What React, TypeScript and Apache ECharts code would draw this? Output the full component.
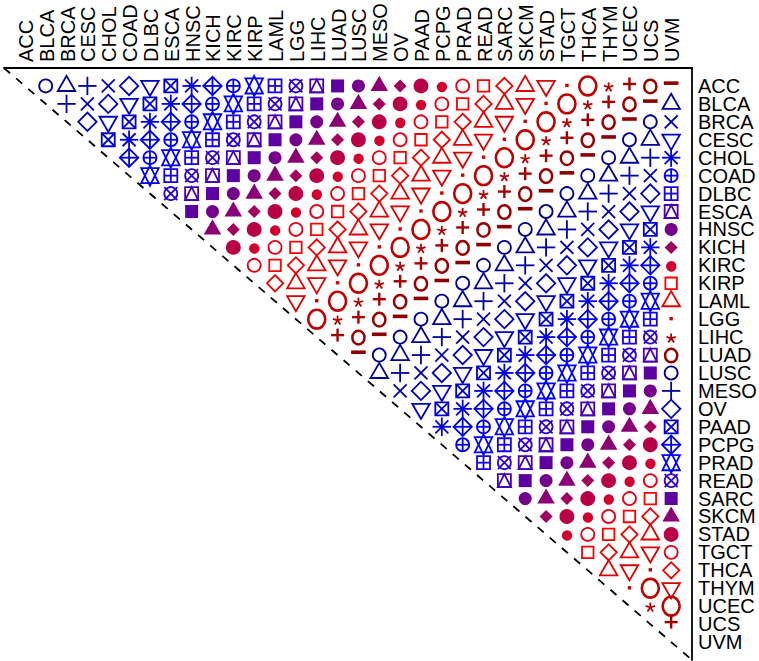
import React, { useEffect, useRef } from "react";
import * as echarts from "echarts";

// Cancer types (columns on top, rows on the right)
const cancerTypes = ["ACC","BLCA","BRCA","CESC","CHOL","COAD","DLBC","ESCA","HNSC","KICH","KIRC","KIRP","LAML","LGG","LIHC","LUAD","LUSC","MESO","OV","PAAD","PCPG","PRAD","READ","SARC","SKCM","STAD","TGCT","THCA","THYM","UCEC","UCS","UVM"];

// Symbol code (1..31) of each cell right of the diagonal, row by row
const rowACC = [1,2,3,4,5,6,7,8,9,10,11,12,13,14,15,16,17,18,19,20,21,22,23,24,25,26,27,28,29,30,31];
const rowBLCA = [3,4,5,6,7,8,9,10,11,12,13,14,15,16,17,18,19,20,21,22,23,24,25,26,27,28,29,30,31,2];
const rowBRCA = [5,6,7,8,9,10,11,12,13,14,15,16,17,18,19,20,21,22,23,24,25,26,27,28,29,30,31,1,4];
const rowCESC = [7,8,9,10,11,12,13,14,15,16,17,18,19,20,21,22,23,24,25,26,27,28,29,30,31,1,2,6];
const rowCHOL = [9,10,11,12,13,14,15,16,17,18,19,20,21,22,23,24,25,26,27,28,29,30,31,1,2,3,8];
const rowCOAD = [11,12,13,14,15,16,17,18,19,20,21,22,23,24,25,26,27,28,29,30,31,1,2,3,4,10];
const rowDLBC = [13,14,15,16,17,18,19,20,21,22,23,24,25,26,27,28,29,30,31,1,2,3,4,5,12];
const rowESCA = [15,16,17,18,19,20,21,22,23,24,25,26,27,28,29,30,31,1,2,3,4,5,6,14];
const rowHNSC = [17,18,19,20,21,22,23,24,25,26,27,28,29,30,31,1,2,3,4,5,6,7,16];
const rowKICH = [19,20,21,22,23,24,25,26,27,28,29,30,31,1,2,3,4,5,6,7,8,18];
const rowKIRC = [21,22,23,24,25,26,27,28,29,30,31,1,2,3,4,5,6,7,8,9,20];
const rowKIRP = [23,24,25,26,27,28,29,30,31,1,2,3,4,5,6,7,8,9,10,22];
const rowLAML = [25,26,27,28,29,30,31,1,2,3,4,5,6,7,8,9,10,11,24];
const rowLGG = [27,28,29,30,31,1,2,3,4,5,6,7,8,9,10,11,12,26];
const rowLIHC = [29,30,31,1,2,3,4,5,6,7,8,9,10,11,12,13,28];
const rowLUAD = [31,1,2,3,4,5,6,7,8,9,10,11,12,13,14,30];
const rowLUSC = [2,3,4,5,6,7,8,9,10,11,12,13,14,15,1];
const rowMESO = [4,5,6,7,8,9,10,11,12,13,14,15,16,3];
const rowOV = [6,7,8,9,10,11,12,13,14,15,16,17,5];
const rowPAAD = [8,9,10,11,12,13,14,15,16,17,18,7];
const rowPCPG = [10,11,12,13,14,15,16,17,18,19,9];
const rowPRAD = [12,13,14,15,16,17,18,19,20,11];
const rowREAD = [14,15,16,17,18,19,20,21,13];
const rowSARC = [16,17,18,19,20,21,22,15];
const rowSKCM = [18,19,20,21,22,23,17];
const rowSTAD = [20,21,22,23,24,19];
const rowTGCT = [22,23,24,25,21];
const rowTHCA = [24,25,26,23];
const rowTHYM = [26,27,25];
const rowUCEC = [28,27];
const rowUCS = [29];

const symbolRows = [rowACC,rowBLCA,rowBRCA,rowCESC,rowCHOL,rowCOAD,rowDLBC,rowESCA,rowHNSC,rowKICH,rowKIRC,rowKIRP,rowLAML,rowLGG,rowLIHC,rowLUAD,rowLUSC,rowMESO,rowOV,rowPAAD,rowPCPG,rowPRAD,rowREAD,rowSARC,rowSKCM,rowSTAD,rowTGCT,rowTHCA,rowTHYM,rowUCEC,rowUCS];

// Colour of each symbol code 1..31
const symbolColors = [
  "#00008b","#000097","#0000a2","#0000ae","#0000b9","#0000c5","#0000d1","#0000dc","#0000e8","#0000f3","#0000ff",
  "#1700e8","#2e00d1","#4600b9","#5d00a2","#74008b","#8b0074","#a2005d","#b90046","#d1002e","#e80017","#ff0000",
  "#f20000","#e50000","#d80000","#cb0000","#be0000","#b10000","#a40000","#980000","#8b0000"
];

const FONT = "Liberation Sans, Arial, sans-serif";
const R = 6.5;
const LW = 1.8;
const SQ2 = Math.SQRT2;

function drawSymbol(code: number, color: string): any[] {
  const S = { stroke: color, fill: "none", lineWidth: LW };
  const F = { fill: color, stroke: "none", lineWidth: 0 };
  const FB = { fill: color, stroke: color, lineWidth: LW };
  const circle = (r: number, style: any) => ({ type: "circle", shape: { cx: 0, cy: 0, r }, style });
  const line = (x1: number, y1: number, x2: number, y2: number, lw = LW) => ({ type: "line", shape: { x1, y1, x2, y2 }, style: { stroke: color, lineWidth: lw } });
  const poly = (points: number[][], style: any) => ({ type: "polygon", shape: { points }, style });
  const square = (h: number, style: any) => ({ type: "rect", shape: { x: -h, y: -h, width: 2 * h, height: 2 * h }, style });
  const plus = (h: number) => [line(-h, 0, h, 0), line(0, -h, 0, h)];
  const times = (h: number) => [line(-h, -h, h, h), line(-h, h, h, -h)];
  const diamond = (h: number, style: any) => poly([[-h, 0], [0, -h], [h, 0], [0, h]], style);
  const tr = 1.5551 * R, ty = 0.7776 * R, tx = 1.3468 * R;
  const triUp = (style: any) => poly([[0, -tr], [tx, ty], [-tx, ty]], style);
  const triDown = (style: any) => poly([[0, tr], [tx, -ty], [-tx, -ty]], style);
  switch (code) {
    case 1: return [circle(R, S)];
    case 2: return [triUp(S)];
    case 3: return plus(SQ2 * R);
    case 4: return times(R);
    case 5: return [diamond(SQ2 * R, S)];
    case 6: return [triDown(S)];
    case 7: return [square(R, S), ...times(R)];
    case 8: return [...times(R), ...plus(SQ2 * R)];
    case 9: return [...plus(SQ2 * R), diamond(SQ2 * R, S)];
    case 10: return [circle(R, S), ...plus(R)];
    case 11: {
      const yc = 1.1664 * R;
      return [poly([[0, tr], [tx, -yc], [-tx, -yc]], S), poly([[0, -tr], [tx, yc], [-tx, yc]], S)];
    }
    case 12: return [square(R, S), ...plus(R)];
    case 13: return [circle(R, S), ...times(R)];
    case 14: return [square(R, S), poly([[0, -R], [R, R], [-R, R]], S)];
    case 15: return [square(R, F)];
    case 16: return [circle(R, F)];
    case 17: return [triUp(F)];
    case 18: return [diamond(R, F)];
    case 19: return [circle(R, FB)];
    case 20: return [circle(0.6667 * R, FB)];
    case 21: return [circle(R, S)];
    case 22: return [square(R * 0.8862, S)];
    case 23: return [diamond(R * 1.2533, S)];
    case 24: return [triUp(S)];
    case 25: return [triDown(S)];
    case 26: return [{ type: "rect", shape: { x: -1.7, y: -2.2, width: 3.4, height: 3.4 }, style: F }];
    case 27: return [{ type: "ellipse", shape: { cx: 0, cy: 0, rx: 8.5, ry: 9.4 }, style: { stroke: color, fill: "none", lineWidth: 2.6 } }];
    case 28: {
      const cy = 1.3, L = 4.9;
      const arms = [-90, -18, 54, 126, 198];
      return arms.map((a) => {
        const rad = (a * Math.PI) / 180;
        return line(0, cy, L * Math.cos(rad), cy + L * Math.sin(rad), 1.8);
      });
    }
    case 29: {
      const cy = -2;
      return [line(-6.5, cy, 6.5, cy, 2.4), line(0, cy - 6.5, 0, cy + 6.5, 2.4)];
    }
    case 30: return [{ type: "ellipse", shape: { cx: 0, cy: 0.5, rx: 6.1, ry: 6.8 }, style: { stroke: color, fill: "none", lineWidth: 2.5 } }];
    case 31: return [{ type: "rect", shape: { x: -7.3, y: -4.6, width: 14.6, height: 3.6 }, style: F }];
    default: return [];
  }
}

export default function App() {
  const ref = useRef<HTMLDivElement>(null);
  useEffect(() => {
    if (!ref.current) return;
    const chart = echarts.init(ref.current, undefined, { renderer: "svg" });
    const n = cancerTypes.length;
    const cells: number[][] = [];
    symbolRows.forEach((row, r) => {
      row.forEach((code, k) => {
        cells.push([r + 2 + k, r + 1, code]);
      });
    });
    const topLabels = cancerTypes.map((name, i) => [i + 1, 0, name]);
    const fmt = (v: number) => (v >= 1 && v <= n ? cancerTypes[v - 1] : "");
    chart.setOption({
      animation: false,
      backgroundColor: "#fff",
      grid: { left: 4, top: 68, right: 67, bottom: 1, containLabel: false, outerBoundsMode: "none" },
      xAxis: {
        type: "value",
        position: "top",
        min: 0,
        max: n + 1,
        interval: 1,
        axisLine: { show: true, onZero: false, lineStyle: { color: "#000", width: 1.8 } },
        axisTick: { show: false },
        splitLine: { show: false },
        axisLabel: { show: false },
      },
      yAxis: {
        type: "value",
        position: "right",
        inverse: true,
        min: 0,
        max: n + 1,
        interval: 1,
        axisLine: { show: true, onZero: false, lineStyle: { color: "#000", width: 1.8 } },
        axisTick: { show: false },
        splitLine: { show: false },
        axisLabel: { fontSize: 20, color: "#000", fontFamily: FONT, margin: 6, formatter: fmt },
      },
      series: [
        {
          // column labels above the top axis line
          type: "custom",
          coordinateSystem: "cartesian2d",
          silent: true,
          clip: false,
          data: topLabels,
          renderItem: (params: any, api: any) => {
            const p = api.coord([api.value(0), 0]);
            const name = cancerTypes[params.dataIndex];
            return {
              type: "text",
              x: p[0] + 1,
              y: p[1] - 6,
              rotation: Math.PI / 2,
              style: { text: name, fontSize: 20, fontFamily: FONT, fill: "#000", align: "left", verticalAlign: "middle" },
            };
          },
        },
        {
          type: "custom",
          coordinateSystem: "cartesian2d",
          silent: true,
          data: [[0, 0]],
          renderItem: (_params: any, api: any) => {
            const p0 = api.coord([0, 0]);
            const p1 = api.coord([n + 1, n + 1]);
            return {
              type: "line",
              shape: { x1: p0[0], y1: p0[1], x2: p1[0], y2: p1[1] },
              style: { stroke: "#000", lineWidth: 1.8, lineDash: [8, 8] },
            };
          },
        },
        {
          type: "custom",
          coordinateSystem: "cartesian2d",
          silent: true,
          encode: { x: 0, y: 1 },
          data: cells,
          renderItem: (_params: any, api: any) => {
            const x = api.value(0);
            const y = api.value(1);
            const code = api.value(2);
            const p = api.coord([x, y]);
            return {
              type: "group",
              x: p[0],
              y: p[1],
              children: drawSymbol(code, symbolColors[code - 1]),
            };
          },
        },
      ],
    });
    return () => chart.dispose();
  }, []);
  return <div ref={ref} style={{ position: "absolute", left: 0, top: 0, width: 759, height: 661 }} />;
}
